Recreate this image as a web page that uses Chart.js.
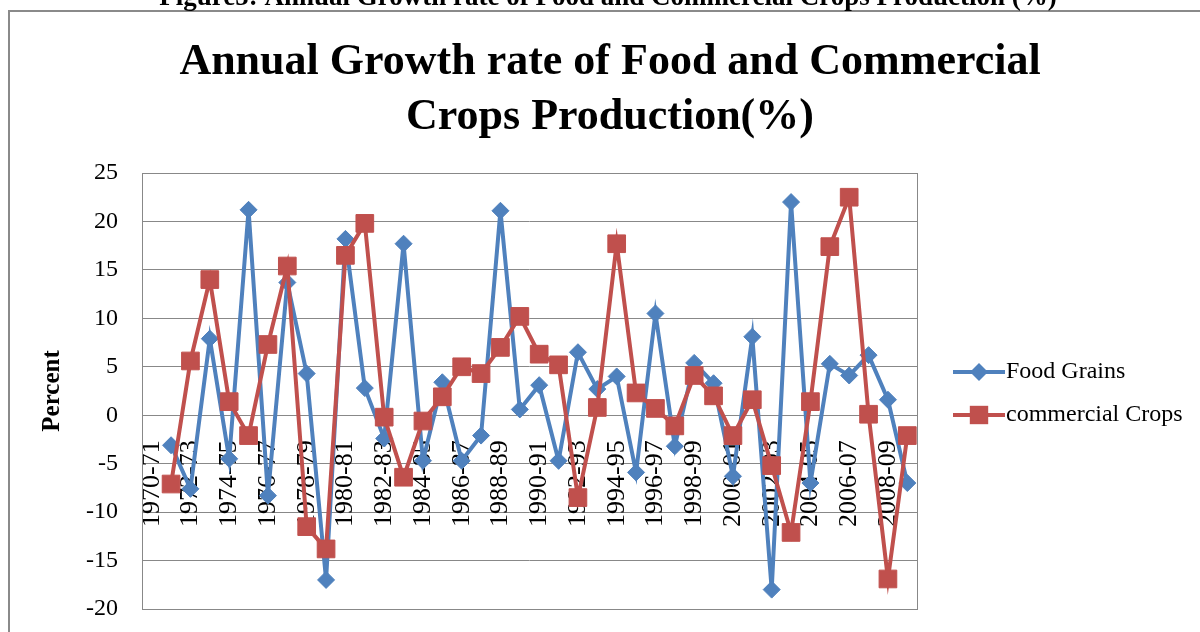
<!DOCTYPE html>
<html>
<head>
<meta charset="utf-8">
<script src="https://cdn.jsdelivr.net/npm/chart.js@4.4.0/dist/chart.umd.min.js"></script>
<style>
  html, body { margin: 0; padding: 0; background: #fff; overflow: hidden; }
</style>
</head>
<body>
<canvas id="growthChart" width="1200" height="632"></canvas>
<script>
const YEARS = [
  '1970-71', '1971-72', '1972-73', '1973-74', '1974-75', '1975-76', '1976-77', '1977-78',
  '1978-79', '1979-80', '1980-81', '1981-82', '1982-83', '1983-84', '1984-85', '1985-86',
  '1986-87', '1987-88', '1988-89', '1989-90', '1990-91', '1991-92', '1992-93', '1993-94',
  '1994-95', '1995-96', '1996-97', '1997-98', '1998-99', '1999-00', '2000-01', '2001-02',
  '2002-03', '2003-04', '2004-05', '2005-06', '2006-07', '2007-08', '2008-09', '2009-10'
];
const FOOD_GRAINS = [
  null, -3.1, -7.6, 7.9, -4.5, 21.2, -8.3, 13.7, 4.3, -17.0,
  18.2, 2.8, -2.4, 17.7, -4.7, 3.4, -4.7, -2.1, 21.1, 0.6,
  3.1, -4.7, 6.5, 2.7, 4.0, -5.9, 10.5, -3.2, 5.4, 3.3,
  -6.3, 8.1, -18.0, 22.0, -7.0, 5.3, 4.1, 6.2, 1.6, -7.0
];
const COMMERCIAL_CROPS = [
  null, -7.1, 5.6, 14.0, 1.4, -2.1, 7.3, 15.4, -11.5, -13.8,
  16.5, 19.8, -0.2, -6.4, -0.6, 1.9, 5.0, 4.3, 7.0, 10.2,
  6.3, 5.2, -8.5, 0.8, 17.7, 2.3, 0.7, -1.1, 4.1, 2.0,
  -2.1, 1.6, -5.2, -12.1, 1.4, 17.4, 22.5, 0.1, -16.9, -2.1
];
const Y_MIN = -20;
const Y_MAX = 25;
const Y_STEP = 5;

const CAPTION = 'Figure5: Annual Growth rate of Food and Commercial Crops Production (%)';
const TITLE_LINES = ['Annual Growth rate of Food and Commercial', 'Crops Production(%)'];

const SERIF = "'Liberation Serif', 'Times New Roman', serif";
const GRID = '#888888';
const COLORS = { food: '#4F81BD', commercial: '#C0504D' };

function drawMarker(ctx, style, x, y, r) {
  ctx.beginPath();
  if (style === 'rectRot') {
    ctx.moveTo(x, y - r); ctx.lineTo(x + r, y); ctx.lineTo(x, y + r); ctx.lineTo(x - r, y);
  } else {
    const s = r * Math.SQRT1_2;
    ctx.rect(x - s, y - s, 2 * s, 2 * s);
  }
  ctx.closePath();
  ctx.fill();
}

// frame, caption, title, plot border and legend, excel style
const decorations = {
  id: 'decorations',
  beforeDraw(chart) {
    const { ctx } = chart;
    ctx.save();
    ctx.fillStyle = '#fff';
    ctx.fillRect(0, 0, chart.width, chart.height);
    ctx.strokeStyle = '#8a8a8a';
    ctx.lineWidth = 2;
    ctx.strokeRect(9, 11, 1400, 800);
    ctx.fillStyle = '#000';
    ctx.textAlign = 'center';
    ctx.textBaseline = 'alphabetic';
    ctx.font = 'bold 27px ' + SERIF;
    ctx.fillText(CAPTION, 608, 5);
    ctx.font = 'bold 44px ' + SERIF;
    ctx.textBaseline = 'middle';
    TITLE_LINES.forEach((t, i) => ctx.fillText(t, 610, 63 + i * 55));
    ctx.restore();
  },
  beforeDatasetsDraw(chart) {
    const { ctx, chartArea: a } = chart;
    ctx.save();
    ctx.strokeStyle = GRID;
    ctx.lineWidth = 1;
    ctx.strokeRect(Math.round(a.left) + 0.5, Math.round(a.top) + 0.5, Math.round(a.width), Math.round(a.height));
    ctx.restore();
  },
  afterDraw(chart) {
    const { ctx } = chart;
    ctx.save();
    chart.data.datasets.forEach((ds, i) => {
      const y = 372 + i * 43;
      ctx.strokeStyle = ds.borderColor;
      ctx.lineWidth = ds.borderWidth;
      ctx.beginPath();
      ctx.moveTo(953, y);
      ctx.lineTo(1005, y);
      ctx.stroke();
      ctx.fillStyle = ds.pointBackgroundColor;
      drawMarker(ctx, ds.pointStyle, 979, y, ds.pointRadius + 0.5);
      ctx.fillStyle = '#000';
      ctx.font = '24px ' + SERIF;
      ctx.textAlign = 'left';
      ctx.textBaseline = 'middle';
      ctx.fillText(ds.label, 1006, y);
    });
    ctx.restore();
  }
};

new Chart(document.getElementById('growthChart'), {
  type: 'line',
  data: {
    labels: YEARS,
    datasets: [
      {
        label: 'Food Grains', data: FOOD_GRAINS, order: 1,
        borderColor: COLORS.food, backgroundColor: COLORS.food, borderWidth: 4,
        pointStyle: 'rectRot', pointRadius: 8.5, pointBackgroundColor: COLORS.food,
        pointBorderColor: COLORS.food, pointBorderWidth: 1, tension: 0
      },
      {
        label: 'commercial Crops', data: COMMERCIAL_CROPS, order: 0,
        borderColor: COLORS.commercial, backgroundColor: COLORS.commercial, borderWidth: 4,
        pointStyle: 'rect', pointRadius: 12.5, pointBackgroundColor: COLORS.commercial,
        pointBorderColor: COLORS.commercial, pointBorderWidth: 1, tension: 0
      }
    ]
  },
  options: {
    responsive: false, animation: false, devicePixelRatio: 1,
    layout: { padding: { top: 173, right: 283, bottom: 23, left: 0 } },
    plugins: { legend: { display: false }, title: { display: false }, tooltip: { enabled: false } },
    scales: {
      x: {
        position: { y: 0 }, offset: true,
        grid: { display: false, drawTicks: false }, border: { display: false },
        ticks: {
          autoSkip: false, minRotation: 90, maxRotation: 90, padding: 25,
          color: '#000', font: { family: SERIF, size: 26 },
          callback: (v, i) => (i % 2 === 0 ? YEARS[i] : '')
        }
      },
      y: {
        min: Y_MIN, max: Y_MAX,
        afterFit: (scale) => { scale.width = 142; },
        grid: { color: GRID, lineWidth: 1, drawTicks: true, tickLength: 20, tickColor: 'rgba(0,0,0,0)' },
        border: { display: false },
        ticks: { stepSize: Y_STEP, padding: 4, color: '#000', font: { family: SERIF, size: 24 } },
        title: {
          display: true, text: 'Percent', color: '#000',
          font: { family: SERIF, size: 25, weight: 'bold' }, padding: { top: 38, bottom: 0 }
        }
      }
    }
  },
  plugins: [decorations]
});
</script>
</body>
</html>
